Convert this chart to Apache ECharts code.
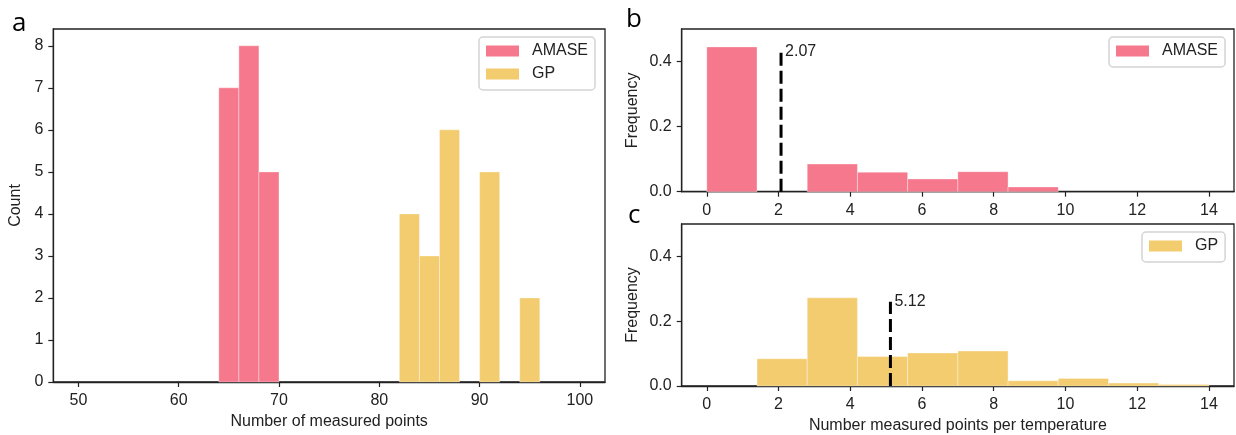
<!DOCTYPE html>
<html>
<head>
<meta charset="utf-8">
<script src="https://cdn.jsdelivr.net/npm/echarts@6/dist/echarts.min.js"></script>
<style>
  html, body { margin: 0; padding: 0; background: #fff; }
  #chart { width: 1236px; height: 435px; }
</style>
</head>
<body>
<div id="chart"></div>
<script>
// panel a: histogram of measured points per run
const amaseEdges = [64, 66, 68, 70]
const amaseCounts = [7, 8, 5]
const gpEdges = [82, 84, 86, 88, 90, 92, 94, 96]
const gpCounts = [4, 3, 6, 0, 5, 0, 2]

// panels b, c: measured points per temperature (density)
const perTempEdges = [0, 1.4, 2.8, 4.2, 5.6, 7, 8.4, 9.8, 11.2, 12.6, 14]
const amaseFreq = [0.445, 0, 0.085, 0.06, 0.039, 0.0615, 0.0145, 0, 0, 0]
const gpFreq = [0, 0.084, 0.272, 0.091, 0.102, 0.108, 0.016, 0.023, 0.009, 0.005]

// mean value and height of the dashed marker
const amaseMean = [2.07, 0.43]
const gpMean = [5.12, 0.26]

const countXTicks = [50, 60, 70, 80, 90, 100]
const countYTicks = [0, 1, 2, 3, 4, 5, 6, 7, 8]
const perTempTicks = [0, 2, 4, 6, 8, 10, 12, 14]
const freqTicks = [0, 0.2, 0.4]

const PINK = '#f5788c'
const GOLD = '#f2cc6f'
const INK = '#222'
const FONT = '"Liberation Sans", Arial, sans-serif'

const toBins = (edges, vals) => vals.map((v, i) => [edges[i], edges[i + 1], v])

const renderBin = (params, api) => {
  const h = api.value(2)
  if (!h) return null
  const a = api.coord([api.value(0), h])
  const b = api.coord([api.value(1), 0])
  return {
    type: 'rect',
    shape: { x: a[0], y: a[1], width: b[0] - a[0], height: b[1] - a[1] },
    style: { fill: api.visual('color'), stroke: 'rgba(255,255,255,0.35)', lineWidth: 1 },
  }
}

const renderMean = (params, api) => {
  const top = api.coord([api.value(0), api.value(1)])
  const base = api.coord([api.value(0), 0])
  return {
    type: 'group',
    children: [
      { type: 'line', shape: { x1: base[0], y1: base[1], x2: top[0], y2: top[1] },
        style: { stroke: '#000', lineWidth: 3, lineDash: [13, 5] } },
      { type: 'text', x: top[0] + 4, y: top[1],
        style: { text: api.value(0).toFixed(2), fill: INK, font: '16px ' + FONT, verticalAlign: 'middle' } },
    ],
  }
}

const axisCommon = {
  type: 'value',
  splitLine: { show: false },
  axisLine: { onZero: false, lineStyle: { color: INK, width: 1.3 } },
  axisTick: { length: 5, lineStyle: { color: INK, width: 1.2 } },
  nameLocation: 'middle',
  nameTextStyle: { fontSize: 16, color: INK, fontFamily: FONT },
}

const xAxis = (gridIndex, min, max, ticks, name) => ({
  ...axisCommon, gridIndex, min, max, name,
  nameGap: 32,
  axisTick: { ...axisCommon.axisTick, customValues: ticks },
  axisLabel: { customValues: ticks, margin: 11, fontSize: 16, color: INK, fontFamily: FONT },
})

const yAxis = (gridIndex, max, ticks, name, gap, fmt) => ({
  ...axisCommon, gridIndex, min: 0, max, name,
  nameGap: gap,
  axisTick: { ...axisCommon.axisTick, customValues: ticks },
  axisLabel: { customValues: ticks, margin: 10, fontSize: 16, color: INK, fontFamily: FONT, formatter: fmt },
})

const legendCommon = {
  orient: 'vertical',
  align: 'left',
  icon: 'rect',
  itemWidth: 33,
  itemHeight: 11,
  itemGap: 5,
  padding: [5, 7, 7, 7],
  selectedMode: false,
  backgroundColor: 'rgba(255,255,255,0.8)',
  borderColor: '#d4d4d4',
  borderWidth: 1.5,
  borderRadius: 4,
  textStyle: { fontSize: 16, color: INK, fontFamily: FONT, lineHeight: 18, padding: [0, 0, 0, 8] },
}

const panelLetter = (text, left, y) => ({
  type: 'text', left, top: y,
  style: { text, font: '26px "Open Sans", sans-serif', fill: '#000' },
})

const chart = echarts.init(document.getElementById('chart'))
chart.setOption({
  animation: false,
  grid: [
    { left: 53.3, top: 29, width: 551.7, height: 358.3, show: true, borderColor: INK, borderWidth: 1.3 },
    { left: 681.7, top: 29, width: 552.3, height: 162.7, show: true, borderColor: INK, borderWidth: 1.3 },
    { left: 681.7, top: 224, width: 552.3, height: 163.3, show: true, borderColor: INK, borderWidth: 1.3 },
  ],
  xAxis: [
    xAxis(0, 47.5, 102.5, countXTicks, 'Number of measured points'),
    xAxis(1, -0.7, 14.7, perTempTicks, ''),
    xAxis(2, -0.7, 14.7, perTempTicks, 'Number measured points per temperature'),
  ],
  yAxis: [
    yAxis(0, 8.4, countYTicks, 'Count', 30, (v) => String(v)),
    yAxis(1, 0.5, freqTicks, 'Frequency', 41, (v) => v.toFixed(1)),
    yAxis(2, 0.5, freqTicks, 'Frequency', 41, (v) => v.toFixed(1)),
  ],
  legend: [
    { ...legendCommon, data: ['AMASE', 'GP'], left: 479, top: 37 },
    { ...legendCommon, data: ['AMASE'], left: 1109, top: 37 },
    { ...legendCommon, data: ['GP'], left: 1142, top: 232 },
  ],
  graphic: [
    panelLetter('a', 12, 11),
    panelLetter('b', 626, 7),
    panelLetter('c', 628, 203),
  ],
  series: [
    { name: 'AMASE', type: 'custom', xAxisIndex: 0, yAxisIndex: 0, itemStyle: { color: PINK },
      encode: { x: [0, 1], y: 2 }, data: toBins(amaseEdges, amaseCounts), renderItem: renderBin },
    { name: 'GP', type: 'custom', xAxisIndex: 0, yAxisIndex: 0, itemStyle: { color: GOLD },
      encode: { x: [0, 1], y: 2 }, data: toBins(gpEdges, gpCounts), renderItem: renderBin },
    { name: 'AMASE', type: 'custom', xAxisIndex: 1, yAxisIndex: 1, itemStyle: { color: PINK },
      encode: { x: [0, 1], y: 2 }, data: toBins(perTempEdges, amaseFreq), renderItem: renderBin },
    { name: 'GP', type: 'custom', xAxisIndex: 2, yAxisIndex: 2, itemStyle: { color: GOLD },
      encode: { x: [0, 1], y: 2 }, data: toBins(perTempEdges, gpFreq), renderItem: renderBin },
    { name: 'AMASE mean', type: 'custom', xAxisIndex: 1, yAxisIndex: 1, z: 5,
      encode: { x: 0, y: 1 }, data: [amaseMean], renderItem: renderMean },
    { name: 'GP mean', type: 'custom', xAxisIndex: 2, yAxisIndex: 2, z: 5,
      encode: { x: 0, y: 1 }, data: [gpMean], renderItem: renderMean },
  ],
})
</script>
</body>
</html>
